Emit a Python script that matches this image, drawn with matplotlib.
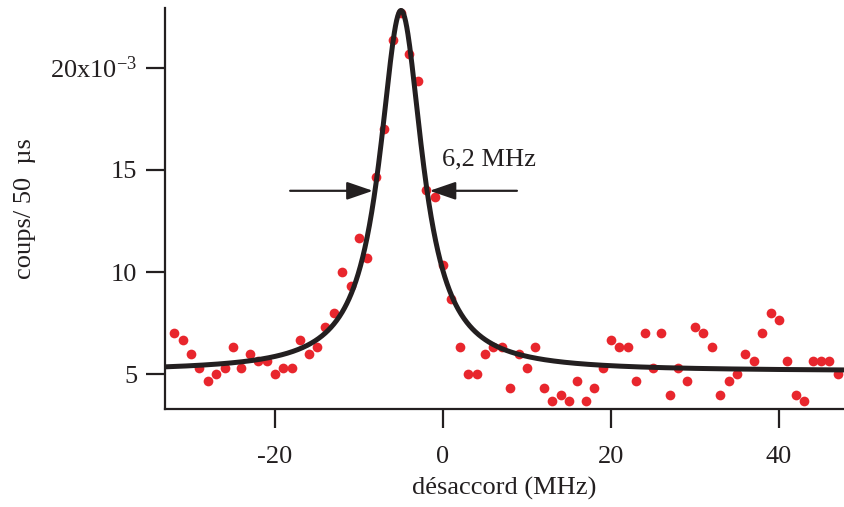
import numpy as np
import matplotlib
matplotlib.use("Agg")
import matplotlib.pyplot as plt

# ============================
# Data (counts / 50 us, in units of 1e-3)
# ============================
detuning = list(range(-32, 48))
counts = [7.0, 6.67, 6.0, 5.33, 4.67, 5.0, 5.33, 6.33, 5.33, 6.0,
          5.67, 5.67, 5.0, 5.33, 5.33, 6.67, 6.0, 6.33, 7.33, 8.0,
          10.0, 9.33, 11.67, 10.67, 14.67, 17.0, 21.33, 22.67, 20.67, 19.33,
          14.0, 13.67, 10.33, 8.67, 6.33, 5.0, 5.0, 6.0, 6.33, 6.33,
          4.33, 6.0, 5.33, 6.33, 4.33, 3.67, 4.0, 3.67, 4.67, 3.67,
          4.33, 5.33, 6.67, 6.33, 6.33, 4.67, 7.0, 5.33, 7.0, 4.0,
          5.33, 4.67, 7.33, 7.0, 6.33, 4.0, 4.67, 5.0, 6.0, 5.67,
          7.0, 8.0, 7.67, 5.67, 4.0, 3.67, 5.67, 5.67, 5.67, 5.0]

# Lorentzian fit parameters
fit_center = -5.0
fit_fwhm = 6.2
fit_height = 17.65
fit_offset = 5.15

yticks = [5, 10, 15, 20]
ytick_labels = ["5", "10", "15", "20x10$^{-3}$"]
xticks = [-20, 0, 20, 40]

plt.rcParams['font.family'] = ['Liberation Serif', 'DejaVu Serif']
plt.rcParams['mathtext.default'] = 'regular'
plt.rcParams['axes.unicode_minus'] = False

red = '#e8262d'
dark = '#231f20'
fs = 19

fig = plt.figure(figsize=(8.44, 5.07), dpi=100)
ax = fig.add_axes([0.1955, 0.1933, 0.8045, 0.791])

xs = np.linspace(-33.1, 47.74, 1200)
hw = fit_fwhm / 2.0
fit = fit_offset + fit_height * hw**2 / ((xs - fit_center)**2 + hw**2)

ax.plot(detuning, counts, 'o', color=red, markersize=7, markeredgewidth=0, zorder=2)
ax.plot(xs, fit, '-', color=dark, linewidth=3.6, zorder=3)

# FWHM arrows
half = fit_offset + fit_height / 2.0
arr = dict(arrowstyle='-|>,head_length=1.6,head_width=0.55', color=dark, lw=1.6,
           shrinkA=0, shrinkB=0)
ax.annotate('', xy=(fit_center - hw - 0.25, half), xytext=(-18.2, half), arrowprops=arr)
ax.annotate('', xy=(fit_center + hw + 0.3, half), xytext=(8.8, half), arrowprops=arr)
ax.text(-0.1, 15.5, '6,2 MHz', fontsize=fs, va='center', ha='left', color=dark)

ax.set_xlim(-33.1, 47.74)
ax.set_ylim(3.30, 22.92)
ax.set_xticks(xticks)
ax.set_xticklabels([str(t) for t in xticks])
ax.set_yticks(yticks)
ax.set_yticklabels(ytick_labels)

for s in ['top', 'right']:
    ax.spines[s].set_visible(False)
for s in ['left', 'bottom']:
    ax.spines[s].set_linewidth(1.6)
    ax.spines[s].set_color(dark)
ax.tick_params(direction='out', length=14, width=1.6, color=dark,
               labelsize=fs, labelcolor=dark)
ax.tick_params(axis='x', pad=13)
ax.tick_params(axis='y', pad=6)

ax.set_xlabel('désaccord (MHz)', fontsize=fs, color=dark, labelpad=6)
ax.set_ylabel('coups/ 50  µs', fontsize=fs, color=dark)
ax.yaxis.set_label_coords(-0.19, 0.5)

fig.savefig('out.png', dpi=100)
plt.close()
